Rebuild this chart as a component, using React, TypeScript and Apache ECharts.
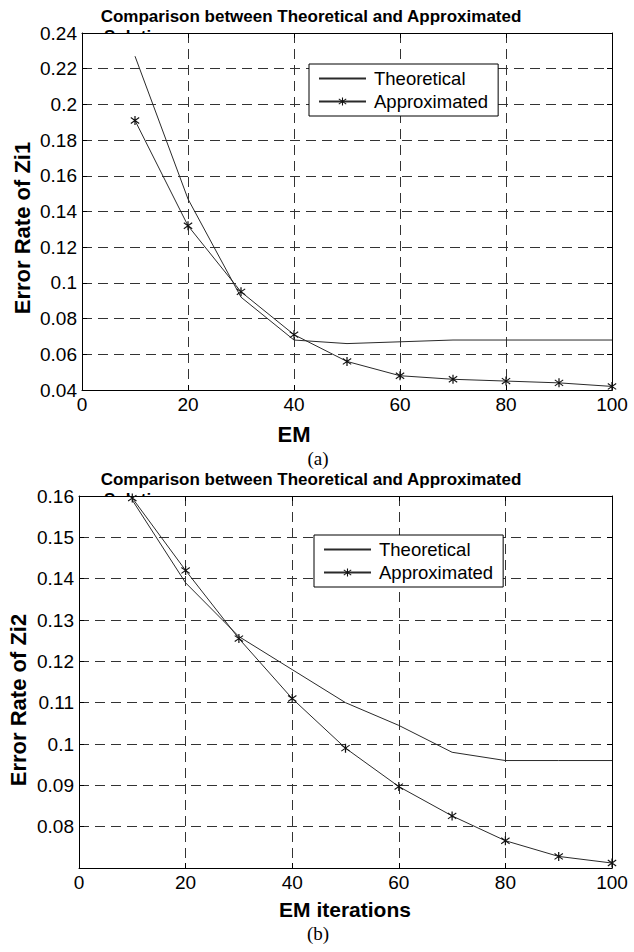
import React, { useEffect, useRef } from "react";
import * as echarts from "echarts";

const emIterations = [10, 20, 30, 40, 50, 60, 70, 80, 90, 100];
const zi1Theoretical = [0.227, 0.147, 0.092, 0.068, 0.066, 0.067, 0.068, 0.068, 0.068, 0.068];
const zi1Approximated = [0.191, 0.132, 0.095, 0.071, 0.056, 0.048, 0.046, 0.045, 0.044, 0.042];
const zi2Theoretical = [0.159, 0.139, 0.126, 0.118, 0.11, 0.1045, 0.098, 0.096, 0.096, 0.096];
const zi2Approximated = [0.1595, 0.142, 0.1255, 0.111, 0.099, 0.0897, 0.0826, 0.0766, 0.0728, 0.0712];
const seriesNames = ["Theoretical", "Approximated"];
const titleLine1 = "Comparison between Theoretical and Approximated";
const titleLine2 = "Solutions";
const yNames = ["Error Rate of Zi1", "Error Rate of Zi2"];
const xNames = ["EM", "EM iterations"];
const panelLabels = ["(a)", "(b)"];
const xRange = { min: 0, max: 100, interval: 20 };
const y1Range = { min: 0.04, max: 0.24, interval: 0.02 };
const y2Range = { min: 0.07, max: 0.16, interval: 0.01 };

const FONT = "'Liberation Sans', Arial, Helvetica, sans-serif";
const SERIF = "'Liberation Serif', 'Times New Roman', serif";
const ASTERISK =
  "path://M4.4,0H5.6V10H4.4Z M0.6,2.2L1.2,1.2L9.4,7.8L8.8,8.8Z M8.8,1.2L9.4,2.2L1.2,8.8L0.6,7.8Z";

const grids = [
  { left: 82, top: 33, width: 530, height: 357 },
  { left: 79, top: 496, width: 533, height: 372 },
];

function pairs(xs: number[], ys: number[]) {
  return xs.map((x, i) => [x, ys[i]]);
}

export default function App() {
  const ref = useRef<HTMLDivElement>(null);
  useEffect(() => {
    document.body.style.margin = "0";
    if (!ref.current) return;
    const chart = echarts.init(ref.current, undefined, { renderer: "svg" });

    const dash = { type: [10, 6] as any, color: "#333", width: 1 };
    const mkX = (gi: number, pos: "bottom" | "top") => ({
      type: "value",
      gridIndex: gi,
      position: pos,
      ...xRange,
      axisLine: { show: true, onZero: false, lineStyle: { color: "#000", width: 1 } },
      axisTick: { show: true, inside: true, length: 5, lineStyle: { color: "#000" } },
      axisLabel: {
        show: pos === "bottom",
        fontSize: 19,
        color: "#000",
        fontFamily: FONT,
        margin: 5,
      },
      splitLine: { show: pos === "bottom", lineStyle: dash },
    });
    const mkY = (gi: number, pos: "left" | "right", r: any, hideMin: boolean) => ({
      type: "value",
      gridIndex: gi,
      position: pos,
      ...r,
      axisLine: { show: true, onZero: false, lineStyle: { color: "#000", width: 1 } },
      axisTick: { show: true, inside: true, length: 5, lineStyle: { color: "#000" } },
      axisLabel: {
        show: pos === "left",
        fontSize: 19,
        color: "#000",
        fontFamily: FONT,
        margin: 5,
        showMinLabel: !hideMin,
      },
      splitLine: { show: pos === "left", lineStyle: dash },
    });

    const lineColor = "#2a2a2a";
    const mkSeries = (gi: number, theo: number[], approx: number[]) => [
      {
        name: seriesNames[0],
        type: "line",
        xAxisIndex: gi * 2,
        yAxisIndex: gi * 2,
        data: pairs(emIterations, theo),
        symbol: "none",
        lineStyle: { color: lineColor, width: 1 },
        itemStyle: { color: lineColor },
        z: 3,
      },
      {
        name: seriesNames[1],
        type: "line",
        xAxisIndex: gi * 2,
        yAxisIndex: gi * 2,
        data: pairs(emIterations, approx),
        symbol: ASTERISK,
        symbolSize: 9,
        showAllSymbol: true,
        lineStyle: { color: lineColor, width: 1 },
        itemStyle: { color: "#111", borderWidth: 0 },
        z: 3,
      },
    ];

    const mkLegend = (left: number, top: number) => ({
      data: [
        { name: seriesNames[0], itemStyle: { opacity: 0 } },
        { name: seriesNames[1] },
      ],
      orient: "vertical",
      left,
      top,
      backgroundColor: "#fff",
      borderColor: "#000",
      borderWidth: 1,
      borderRadius: 0,
      padding: [5, 10, 5, 9],
      itemGap: 4,
      itemWidth: 47,
      itemHeight: 10,
      textStyle: { fontSize: 18.5, color: "#000", fontFamily: FONT, padding: [0, 0, 0, 3] },
      selectedMode: false,
    });

    const graphics: any[] = [];
    const titleY = [16, 479];
    grids.forEach((g, i) => {
      graphics.push({
        type: "text",
        x: 311,
        y: titleY[i],
        z: 5,
        style: {
          text: titleLine1,
          font: `bold 17px ${FONT}`,
          fill: "#000",
          textAlign: "center",
          textVerticalAlign: "middle",
        },
      });
      graphics.push({
        type: "text",
        x: 104,
        y: titleY[i] + 20,
        z: -1,
        z2: 0,
        style: {
          text: titleLine2,
          font: `bold 17px ${FONT}`,
          fill: "#000",
          textAlign: "left",
          textVerticalAlign: "middle",
        },
      });
      graphics.push({
        type: "rect",
        z: -1,
        z2: 10,
        shape: { x: g.left, y: g.top, width: g.width, height: g.height },
        style: { fill: "#fff" },
      });
    });
    // y axis names
    graphics.push({
      type: "text",
      x: 22,
      y: 228,
      rotation: Math.PI / 2,
      style: {
        text: yNames[0],
        font: `bold 22px ${FONT}`,
        fill: "#000",
        textAlign: "center",
        textVerticalAlign: "middle",
      },
    });
    graphics.push({
      type: "text",
      x: 18,
      y: 700,
      rotation: Math.PI / 2,
      style: {
        text: yNames[1],
        font: `bold 22px ${FONT}`,
        fill: "#000",
        textAlign: "center",
        textVerticalAlign: "middle",
      },
    });
    // x axis names
    graphics.push({
      type: "text",
      x: 294,
      y: 434,
      style: {
        text: xNames[0],
        font: `bold 22px ${FONT}`,
        fill: "#000",
        textAlign: "center",
        textVerticalAlign: "middle",
      },
    });
    graphics.push({
      type: "text",
      x: 345,
      y: 909,
      style: {
        text: xNames[1],
        font: `bold 21px ${FONT}`,
        fill: "#000",
        textAlign: "center",
        textVerticalAlign: "middle",
      },
    });
    graphics.push({
      type: "text",
      x: 318,
      y: 458,
      style: {
        text: panelLabels[0],
        font: `19px ${SERIF}`,
        fill: "#000",
        textAlign: "center",
        textVerticalAlign: "middle",
      },
    });
    graphics.push({
      type: "text",
      x: 318,
      y: 933,
      style: {
        text: panelLabels[1],
        font: `19px ${SERIF}`,
        fill: "#000",
        textAlign: "center",
        textVerticalAlign: "middle",
      },
    });

    chart.setOption({
      animation: false,
      backgroundColor: "#fff",
      grid: grids.map((g) => ({ ...g, containLabel: false })),
      xAxis: [mkX(0, "bottom"), mkX(0, "top"), mkX(1, "bottom"), mkX(1, "top")],
      yAxis: [
        mkY(0, "left", y1Range, false),
        mkY(0, "right", y1Range, false),
        mkY(1, "left", y2Range, true),
        mkY(1, "right", y2Range, true),
      ],
      legend: [mkLegend(309, 64), mkLegend(314, 535)],
      series: [
        ...mkSeries(0, zi1Theoretical, zi1Approximated),
        ...mkSeries(1, zi2Theoretical, zi2Approximated),
      ],
      graphic: { elements: graphics },
    });
    return () => chart.dispose();
  }, []);
  return <div ref={ref} style={{ width: 634, height: 952 }} />;
}
